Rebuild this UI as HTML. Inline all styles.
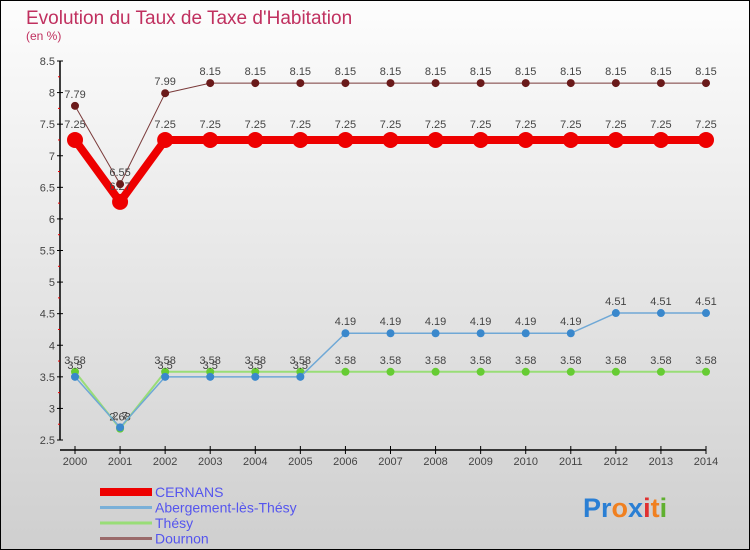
<!DOCTYPE html>
<html><head><meta charset="utf-8">
<style>
html,body{margin:0;padding:0}
body{width:750px;height:550px;overflow:hidden;font-family:"Liberation Sans",sans-serif}
#frame{position:absolute;left:0;top:0;width:748px;height:548px;border:1px solid #000;background:linear-gradient(#fdfdfd,#cfcfcf)}
</style></head>
<body>
<div id="frame"></div>
<svg id="chart" width="750" height="550" style="position:absolute;left:0;top:0">
<text x="26" y="24" font-size="19" fill="#c0305f">Evolution du Taux de Taxe d'Habitation</text>
<text x="26" y="40" font-size="12" fill="#c0305f">(en %)</text>
<g id="axes"></g><g id="series"></g><g id="legend"></g>
<text x="583" y="517" font-size="27" font-weight="bold"><tspan fill="#2a7fd4">Pr</tspan><tspan fill="#f08020">o</tspan><tspan fill="#2a7fd4">x</tspan><tspan fill="#e03030">i</tspan><tspan fill="#f08020">t</tspan><tspan fill="#60b030">i</tspan></text>
</svg>
<script>
const years=[2000,2001,2002,2003,2004,2005,2006,2007,2008,2009,2010,2011,2012,2013,2014];
const cernans=[7.25,6.27,7.25,7.25,7.25,7.25,7.25,7.25,7.25,7.25,7.25,7.25,7.25,7.25,7.25];
const abergement=[3.5,2.7,3.5,3.5,3.5,3.5,4.19,4.19,4.19,4.19,4.19,4.19,4.51,4.51,4.51];
const thesy=[3.58,2.68,3.58,3.58,3.58,3.58,3.58,3.58,3.58,3.58,3.58,3.58,3.58,3.58,3.58];
const dournon=[7.79,6.55,7.99,8.15,8.15,8.15,8.15,8.15,8.15,8.15,8.15,8.15,8.15,8.15,8.15];
const yTicks=[2.5,3,3.5,4,4.5,5,5.5,6,6.5,7,7.5,8,8.5];
const names=["CERNANS","Abergement-lès-Thésy","Thésy","Dournon"];
const NS="http://www.w3.org/2000/svg";
const x=i=>75+i*(706-75)/(years.length-1);
const y=v=>440-(v-2.5)*(440-61)/6;
function mk(p,t,a){const e=document.createElementNS(NS,t);for(const k in a)e.setAttribute(k,a[k]);p.appendChild(e);return e;}
const ax=document.getElementById('axes');
let e=mk(ax,'line',{x1:60,y1:61,x2:60,y2:440,stroke:'#000','stroke-width':1.5});

e=mk(ax,'line',{x1:60,y1:450,x2:706,y2:450,stroke:'#000','stroke-width':1.5});

yTicks.forEach((v,i)=>{
 mk(ax,'line',{x1:57,y1:y(v),x2:63,y2:y(v),stroke:'#000'});
 const t=mk(ax,'text',{x:55,y:y(v)+4,'font-size':11,'text-anchor':'end',fill:'#444'});t.textContent=v;
 
 if(i<yTicks.length-1){const m=v+0.25;mk(ax,'line',{x1:58,y1:y(m),x2:60,y2:y(m),stroke:'#e00'});}
});
years.forEach((yr,i)=>{
 mk(ax,'line',{x1:x(i),y1:446,x2:x(i),y2:454,stroke:'#000'});
 const t=mk(ax,'text',{x:x(i),y:465,'font-size':11,'text-anchor':'middle',fill:'#444'});t.textContent=yr;
 
});
const sr=document.getElementById('series');
function draw(data,color,w,r,dot,name){
 const g=mk(sr,'g',{});
 
 const pl=mk(g,'polyline',{points:data.map((v,i)=>x(i)+','+y(v)).join(' '),fill:'none',stroke:color,'stroke-width':w,'stroke-linejoin':'round'});
 
 data.forEach((v,i)=>{
  const c=mk(g,'circle',{cx:x(i),cy:y(v),r:r,fill:dot});
  
  const t=mk(g,'text',{x:x(i),y:y(v)-r-4,'font-size':11,'text-anchor':'middle',fill:'#444'});t.textContent=v;
  
 });
}
draw(thesy,'#99dd77',2,4,'#66cc33','thesy');
draw(abergement,'#6fa8d6',1.5,4,'#3a88cc','abergement');
draw(cernans,'#ee0000',8,8,'#ee0000','cernans');
draw(dournon,'#7a3a3a',1,4,'#6a1a1a','dournon');
const lg=document.getElementById('legend');
const lc=['#ee0000','#7ab0d8','#99dd77','#9a6a6a'],lw=[8,3,3,3];
names.forEach((n,i)=>{
 const yy=492+i*15.5;
 const l=mk(lg,'line',{x1:100,y1:yy,x2:152,y2:yy,stroke:lc[i],'stroke-width':lw[i]});
 
 const t=mk(lg,'text',{x:155,y:yy+5,'font-size':14,fill:'#5555ee'});t.textContent=n;
 
});
</script>
</body></html>
